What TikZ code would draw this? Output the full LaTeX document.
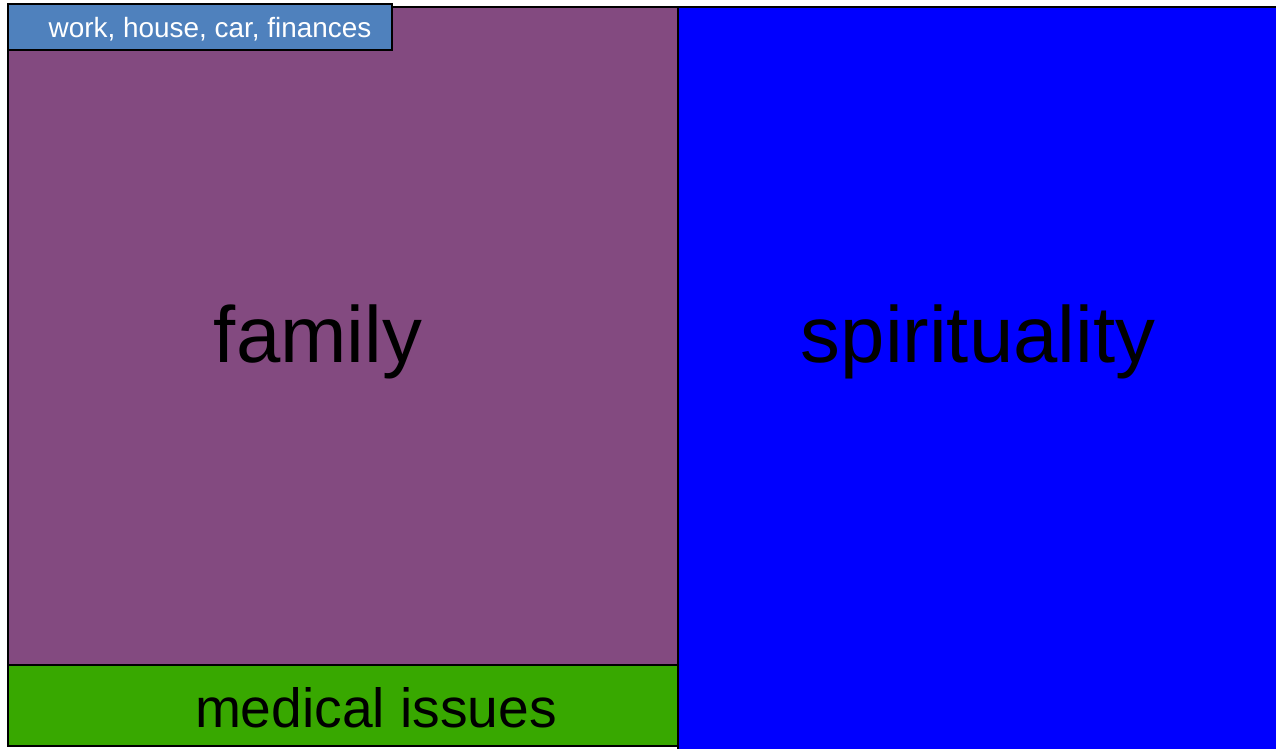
\documentclass[tikz,border=0pt]{standalone}
\usepackage{fontspec}
\setmainfont{Liberation Sans}
\usetikzlibrary{positioning}
\definecolor{famfill}{HTML}{834A80}
\definecolor{spifill}{HTML}{0000FF}
\definecolor{medfill}{HTML}{38A800}
\definecolor{workfill}{HTML}{4F81BD}
\definecolor{ink}{HTML}{000000}
\tikzset{
  area/.style  = {draw=ink, line width=1bp},
  big/.style   = {anchor=base, inner sep=0pt, text=ink, font=\fontsize{40}{40}\selectfont},
  mid/.style   = {anchor=base, inner sep=0pt, text=ink, font=\fontsize{27.7}{28}\selectfont},
  tag/.style   = {anchor=base, inner sep=0pt, text=white, font=\fontsize{14}{14}\selectfont},
}

\begin{document}
\begin{tikzpicture}[x=0.5bp,y=-0.5bp]
\clip (0,0) rectangle (1276,748);
\fill[white] (0,0) rectangle (1276,748);

% ------------------------------------------------------------------ areas
\draw[area, fill=famfill] (8,7)   rectangle (678,665);
\draw[area, fill=medfill] (8,665) rectangle (678,746);
\draw[area, fill=spifill] (678,7) rectangle (1290,760);
\draw[area, fill=workfill] (8,4)  rectangle (392,50);

% ------------------------------------------------------------------ labels
\node[big] (family) at (318,362) {family};
\node[big] (spirit) at (978,362) {spirituality};
\node[mid] (medical) at (376,727) {medical issues};
\node[tag] (work) at (210,37) {work, house, car, finances};

\end{tikzpicture}
\end{document}
